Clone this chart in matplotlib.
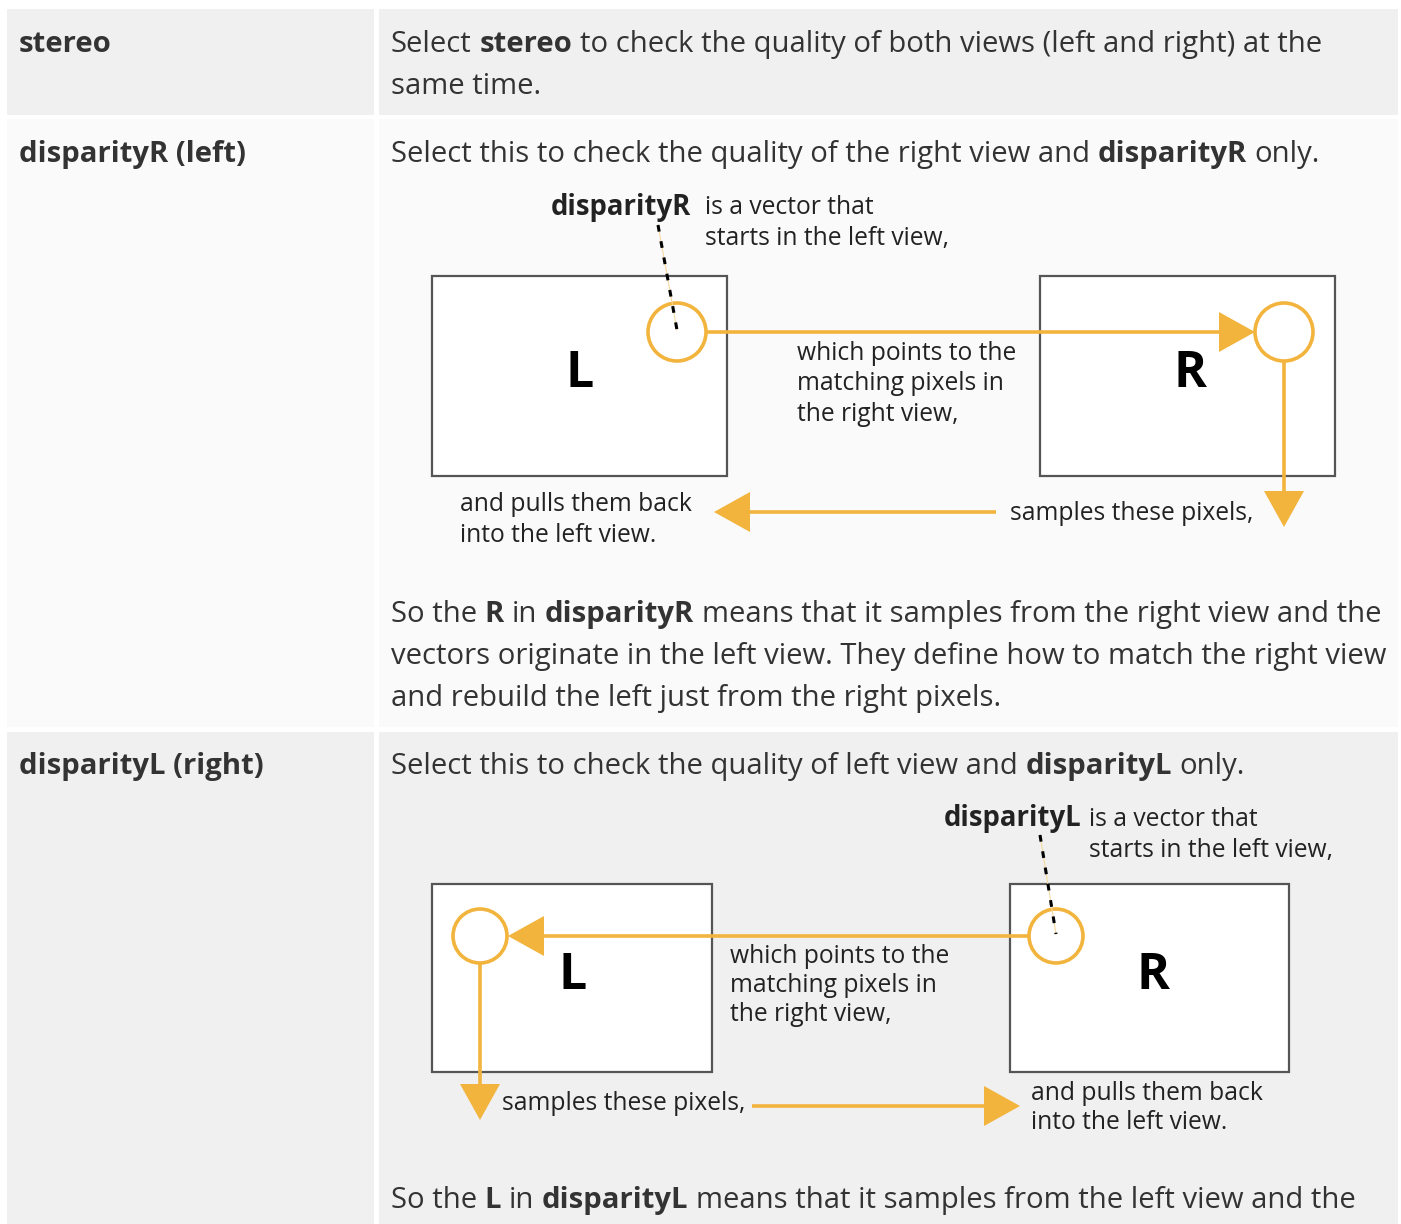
import matplotlib
matplotlib.use('Agg')
import matplotlib.pyplot as plt
from matplotlib.patches import Rectangle, Circle, Polygon

W, H = 1401, 1224
FONT = ['Open Sans', 'DejaVu Sans']
TEXT = '#333333'
DARK = '#222222'
ORANGE = '#F2B43C'
GRAY_BG = '#f0f0f0'
LIGHT_BG = '#fafafa'

# table content
row_labels = ['stereo', 'disparityR (left)', 'disparityL (right)']
stereo_text = [
    [('Select ', False), ('stereo', True), (' to check the quality of both views (left and right) at the', False)],
    [('same time.', False)],
]
dispR_intro = [[('Select this to check the quality of the right view and ', False), ('disparityR', True), (' only.', False)]]
dispR_outro = [
    [('So the ', False), ('R', True), (' in ', False), ('disparityR', True),
     (' means that it samples from the right view and the', False)],
    [('vectors originate in the left view. They define how to match the right view', False)],
    [('and rebuild the left just from the right pixels.', False)],
]
dispL_intro = [[('Select this to check the quality of left view and ', False), ('disparityL', True), (' only.', False)]]
dispL_outro = [
    [('So the ', False), ('L', True), (' in ', False), ('disparityL', True),
     (' means that it samples from the left view and the', False)],
]

# diagram captions
vector_note = ['is a vector that', 'starts in the left view,']
points_note = ['which points to the', 'matching pixels in', 'the right view,']
samples_note = 'samples these pixels,'
pulls_note = ['and pulls them back', 'into the left view.']

BODY = 29.3
NOTE = 24.6

fig = plt.figure(figsize=(W / 100, H / 100), dpi=100)
fig.patch.set_facecolor('white')
ax = fig.add_axes([0, 0, 1, 1])
ax.set_xlim(0, W)
ax.set_ylim(H, 0)
ax.axis('off')
renderer = fig.canvas.get_renderer()


def pt(px):
    return px * 0.72


_sw = {}


def space_width(size, bold):
    key = (size, bold)
    if key not in _sw:
        w = []
        for s in ['n n', 'nn']:
            t = ax.text(0, 0, s, fontsize=pt(size), family=FONT,
                        fontweight='bold' if bold else 'normal')
            w.append(t.get_window_extent(renderer).width)
            t.remove()
        _sw[key] = w[0] - w[1]
    return _sw[key]


def draw_runs(x, y, runs, size, color=TEXT):
    for txt, bold in runs:
        lead = len(txt) - len(txt.lstrip(' '))
        trail = len(txt) - len(txt.rstrip(' '))
        core = txt.strip(' ')
        sw = space_width(size, bold)
        x += lead * sw
        t = ax.text(x, y, core, fontsize=pt(size), family=FONT, color=color,
                    fontweight='bold' if bold else 'normal', va='baseline', ha='left')
        x += t.get_window_extent(renderer).width
        x += trail * sw


def draw_par(x, y0, lines, size=BODY, step=42):
    for i, runs in enumerate(lines):
        draw_runs(x, y0 + i * step, runs, size)


def note(x, y0, lines, size=NOTE, step=30.5, color=DARK):
    for i, s in enumerate(lines):
        ax.text(x, y0 + i * step, s, fontsize=pt(size), family=FONT, color=color,
                va='baseline', ha='left')


def arrow(x0, y0, x1, y1, head=36, half=20):
    # line from (x0,y0) to tip (x1,y1) with filled triangle head
    dx, dy = x1 - x0, y1 - y0
    n = (dx ** 2 + dy ** 2) ** 0.5
    ux, uy = dx / n, dy / n
    bx, by = x1 - ux * head, y1 - uy * head
    ax.plot([x0, bx], [y0, by], color=ORANGE, lw=2.6, solid_capstyle='butt')
    ax.add_patch(Polygon([(x1, y1), (bx - uy * half, by + ux * half), (bx + uy * half, by - ux * half)],
                         closed=True, facecolor=ORANGE, edgecolor='none'))


def view_box(x0, y0, x1, y1, letter, lx, ly):
    ax.add_patch(Rectangle((x0, y0), x1 - x0, y1 - y0, facecolor='white', edgecolor='#555555', lw=1.6))
    ax.text(lx, ly, letter, fontsize=pt(50), family=FONT, fontweight='bold', color='black',
            ha='center', va='center')


def ring(cx, cy, r):
    ax.add_patch(Circle((cx, cy), r, facecolor='none', edgecolor=ORANGE, lw=2.6))


def pointer(x0, y0, x1, y1):
    ax.plot([x0, x1], [y0, y1], color='#f6d9a0', lw=0.8)
    ax.plot([x0, x1], [y0, y1], color='black', lw=2.2, dashes=(2.2, 3.2))


# cell backgrounds
rows = [(9, 115, GRAY_BG), (119, 727, LIGHT_BG), (732, 1230, GRAY_BG)]
for y0, y1, c in rows:
    ax.add_patch(Rectangle((7, y0), 367, y1 - y0, facecolor=c, edgecolor='none'))
    ax.add_patch(Rectangle((379, y0), 1019, y1 - y0, facecolor=c, edgecolor='none'))

# first column labels
for lab, yb in zip(row_labels, [52, 162, 774]):
    draw_runs(19, yb, [(lab, True)], BODY)

# row 1
draw_par(391, 52, stereo_text)

# row 2
draw_par(391, 162, dispR_intro)
draw_runs(551, 215, [('disparityR', True)], 27.5, color=DARK)
note(705, 214, vector_note)
pointer(658, 225, 677, 330)
view_box(432, 276, 727, 476, 'L', 580, 374)
view_box(1040, 276, 1335, 476, 'R', 1190, 374)
ring(677, 332, 29)
ring(1284, 332, 29)
arrow(706, 332, 1255, 332)
note(797, 360, points_note)
arrow(1284, 361, 1284, 527)
note(1010, 520, [samples_note])
arrow(996, 512, 714, 512)
note(460, 511, pulls_note)
draw_par(391, 622, dispR_outro)

# row 3
draw_par(391, 774, dispL_intro)
draw_runs(944, 826, [('disparityL', True)], 27.5, color=DARK)
note(1089, 826, vector_note)
pointer(1040, 835, 1056, 934)
view_box(432, 884, 712, 1072, 'L', 573, 976)
view_box(1010, 884, 1289, 1072, 'R', 1153, 976)
ring(480, 936, 27)
ring(1056, 936, 27)
arrow(1029, 936, 508, 936)
note(730, 963, points_note, step=29)
arrow(480, 963, 480, 1120)
note(502, 1110, [samples_note])
arrow(752, 1106, 1020, 1106)
note(1031, 1100, pulls_note, step=29)
draw_par(391, 1208, dispL_outro)

fig.savefig('out.png', dpi=100, facecolor='white')
